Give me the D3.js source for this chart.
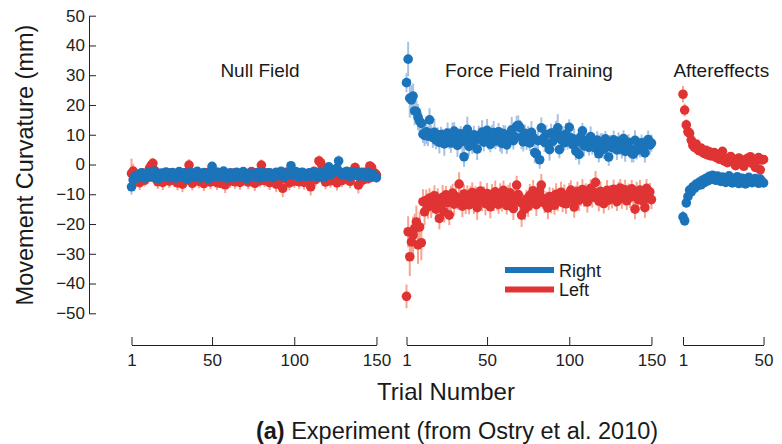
<!DOCTYPE html>
<html>
<head>
<meta charset="utf-8">
<script src="https://cdn.jsdelivr.net/npm/d3@7"></script>
<style>
  html, body { margin: 0; padding: 0; background: #fff; }
  svg { display: block; font-family: "Liberation Sans", Arial, Helvetica, sans-serif; }
</style>
</head>
<body>
<svg id="chart" width="782" height="444"></svg>
<script>
// Mean movement curvature (mm) per trial, with error half-widths.
const seriesNames = ["Right", "Left"];
const panelTitles = ["Null Field", "Force Field Training", "Aftereffects"];
const yTicks = [-50, -40, -30, -20, -10, 0, 10, 20, 30, 40, 50];
const trialTicksLong = [1, 50, 100, 150];
const trialTicksShort = [1, 50];

const nullRight = [
  -7.5,-5.2,-4.1,-3.6,-4.4,-3.2,-2.8,-3.9,-4.6,-3.1,
  -2.6,-3.4,-4.2,-3.0,-2.2,-3.6,-4.8,-3.3,-2.9,-3.7,
  -4.1,-2.5,-3.2,-4.4,-3.8,-2.7,-3.5,-4.6,-3.0,-2.4,
  -3.9,-4.3,-2.8,-3.4,-5.0,-3.6,-2.6,-3.1,-4.2,-3.7,
  -2.3,-3.0,-4.5,-3.9,-2.7,-3.3,-4.1,-4.8,-3.2,-0.6,
  -3.6,-4.0,-2.5,-3.4,-4.3,-3.1,-2.2,-3.8,-4.6,-3.5,
  -2.8,-3.9,-4.4,-3.0,-2.6,-3.7,-4.2,-3.3,-2.4,-3.5,
  -4.7,-3.6,-2.9,-3.2,-4.0,-3.4,-2.7,-3.9,-4.5,-3.1,
  -2.5,-3.3,-4.1,-3.6,-2.8,-3.0,-4.4,-3.7,-2.6,-3.5,
  -3.8,-2.3,-3.1,-4.2,-3.4,-2.9,-3.6,-0.4,-2.7,-3.3,
  -2.4,-3.7,-4.3,-3.0,-2.6,-3.5,-4.1,-3.2,-2.8,-3.9,
  -3.4,-2.5,-3.0,-4.2,-3.6,-2.7,-3.3,-4.4,-3.1,-2.2,
  -0.8,-3.6,-1.8,-2.5,-2.4,-1.2,1.2,-2.6,-3.4,-2.8,
  -3.7,-2.3,-3.1,-4.0,-2.7,-3.5,-2.4,-3.0,-3.9,-3.3,
  -2.6,-3.4,-4.1,-3.0,-2.8,-3.6,-4.3,-3.2,-3.8,-4.4
];
const nullLeft = [
  -3.0,-2.2,-4.8,-5.5,-3.6,-6.1,-4.2,-2.9,-5.3,-4.6,
  -3.3,-1.2,-0.3,0.4,-2.0,-4.9,-5.8,-3.7,-4.4,-6.0,
  -5.1,-3.2,-4.7,-5.6,-2.8,-4.0,-5.4,-3.5,-6.2,-4.3,
  -3.8,-6.6,-4.5,-5.2,-2.6,-0.2,-4.1,-6.3,-5.0,-3.4,
  -4.8,-5.7,-3.1,-4.4,-6.4,-5.3,-2.7,-4.9,-5.9,-3.6,
  -4.2,-5.5,-6.1,-3.9,-6.3,-4.6,-5.0,-6.8,-4.3,-3.2,
  -5.6,-4.0,-2.9,-5.8,-4.7,-3.5,-6.0,-4.4,-5.2,-3.0,
  -4.6,-5.9,-3.7,-2.4,-5.1,-6.3,-4.2,-3.3,-5.5,-0.2,
  -3.9,-5.4,-4.8,-2.8,-6.1,-4.5,-3.6,-5.7,-6.6,-4.0,
  -5.2,-3.4,-8.0,-4.7,-2.6,-5.0,-6.2,-3.8,-4.4,-5.6,
  -3.1,-4.9,-5.8,-2.7,-4.2,-6.0,-3.5,-5.3,-4.6,-7.5,
  -3.9,-2.3,-5.1,-4.4,1.2,0.6,-0.8,-4.7,-5.9,-3.2,
  -4.5,-5.5,-2.9,-3.7,-5.0,-6.2,-4.1,-3.0,-5.4,-4.6,
  -2.5,-4.8,-3.3,-5.7,-4.0,-2.1,-1.0,-3.6,-6.9,-4.3,
  -3.1,-5.2,-2.6,-3.9,-4.7,-0.5,-1.0,-3.3,-2.9,-3.5
];
const ffRight = [
  27.5,35.4,22.3,21.7,23.0,18.0,17.8,15.9,14.6,13.8,
  10.2,9.8,11.0,9.5,15.0,10.5,9.0,10.8,8.2,9.6,
  7.4,10.1,8.8,6.9,9.3,10.6,8.0,7.2,9.9,11.2,
  8.5,6.4,9.1,10.3,7.7,2.6,8.9,11.8,6.1,9.4,
  7.0,10.0,8.3,5.2,9.7,8.6,10.9,7.5,9.0,11.5,
  8.1,6.8,9.8,10.7,7.9,9.2,11.0,8.4,7.1,10.4,
  9.5,6.6,8.7,10.2,11.6,8.0,9.3,12.9,13.2,12.4,
  9.1,7.6,10.5,8.3,9.9,7.2,10.8,9.2,4.0,3.6,
  8.0,1.6,12.3,8.6,7.4,10.1,6.9,5.0,10.6,7.8,
  9.2,11.1,12.3,5.0,8.4,9.7,7.3,10.2,8.1,12.5,
  9.0,6.7,8.5,4.5,7.6,3.4,9.3,11.3,6.2,8.0,
  7.1,5.8,9.4,6.4,7.7,5.5,8.2,3.6,6.9,7.4,
  5.1,8.6,6.0,2.5,7.2,5.7,8.3,6.5,4.9,7.8,
  6.1,5.2,8.7,4.4,6.8,7.5,5.3,3.8,3.5,8.1,
  4.7,6.2,5.6,7.3,6.0,3.9,6.9,8.4,6.5,7.2
];
const ffLeft = [
  -44.3,-22.6,-31.0,-26.0,-23.7,-21.5,-19.3,-27.0,-21.0,-26.3,
  -12.5,-15.9,-12.0,-14.2,-11.3,-13.8,-12.6,-10.5,-15.0,-11.9,
  -18.1,-13.5,-11.0,-15.9,-10.2,-12.8,-17.0,-11.5,-9.6,-13.3,
  -10.8,-12.2,-6.6,-11.7,-14.0,-9.9,-12.4,-10.6,-13.6,-11.1,
  -9.4,-12.9,-10.3,-14.5,-11.8,-8.9,-12.0,-10.7,-13.1,-9.8,
  -11.4,-14.2,-10.0,-12.6,-9.2,-11.9,-13.4,-10.5,-12.2,-8.7,
  -11.0,-13.8,-10.9,-9.5,-12.5,-14.8,-11.3,-6.9,-10.1,-12.7,
  -17.0,-13.2,-15.0,-11.6,-14.1,-10.4,-12.3,-8.8,-11.9,-13.5,
  -10.2,-9.0,-6.9,-11.4,-13.0,-12.1,-14.6,-10.8,-12.9,-11.2,
  -13.7,-10.0,-12.4,-11.1,-9.3,-12.8,-10.6,-13.2,-11.5,-9.8,
  -8.6,-11.7,-14.3,-10.3,-9.1,-12.0,-10.9,-8.4,-11.3,-9.6,
  -12.6,-10.1,-8.0,-11.0,-9.4,-6.0,-10.7,-12.3,-9.0,-11.6,
  -13.1,-10.4,-8.7,-12.0,-9.9,-11.2,-8.3,-10.8,-12.5,-9.2,
  -7.9,-11.4,-10.0,-8.5,-12.2,-9.7,-11.0,-8.2,-10.6,-15.0,
  -9.1,-11.8,-8.6,-10.3,-12.4,-14.5,-8.0,-10.9,-9.2,-11.8
];
const aeRight = [
  -17.6,-18.9,-12.9,-10.8,-8.6,-9.2,-7.5,-8.0,-6.6,-7.1,
  -5.9,-6.8,-5.2,-6.1,-4.6,-5.5,-4.0,-5.0,-3.6,-4.4,
  -5.3,-3.9,-4.8,-5.7,-4.2,-5.1,-6.0,-4.5,-3.8,-5.4,
  -6.2,-4.9,-5.6,-4.1,-6.4,-5.2,-4.6,-5.9,-6.5,-5.0,
  -4.3,-5.8,-6.1,-5.3,-4.7,-5.5,-6.3,-4.9,-5.7,-6.2
];
const aeLeft = [
  23.6,18.3,13.3,11.0,10.5,8.2,6.4,5.8,6.9,5.0,
  4.6,5.5,4.1,3.7,4.8,3.2,4.3,2.9,3.5,4.0,
  2.4,3.1,1.8,2.6,4.4,1.2,2.0,0.6,1.5,2.7,
  0.9,1.7,-0.4,1.1,2.2,0.3,1.4,-0.6,0.8,2.0,
  1.0,2.6,0.4,1.6,-1.0,1.3,2.3,-1.8,1.5,1.7
];

const nullRightErr = [
  2.6,1.9,1.4,1.2,1.6,1.3,1.1,1.5,1.7,1.2,
  1.0,1.4,1.6,1.2,1.1,1.3,1.8,1.2,1.0,1.5,
  1.6,1.1,1.3,1.7,1.4,1.0,1.2,1.6,1.3,1.1,
  1.5,1.7,1.2,1.4,1.8,1.3,1.0,1.2,1.6,1.4,
  1.1,1.3,1.7,1.5,1.0,1.2,1.6,1.8,1.3,1.1,
  1.4,1.5,1.0,1.3,1.7,1.2,1.1,1.5,1.6,1.3,
  1.2,1.4,1.7,1.1,1.0,1.5,1.6,1.2,1.1,1.3,
  1.8,1.4,1.2,1.3,1.5,1.3,1.1,1.4,1.7,1.2,
  1.0,1.3,1.6,1.4,1.1,1.2,1.7,1.5,1.0,1.3,
  1.4,1.0,1.2,1.6,1.3,1.1,1.4,1.5,1.0,1.2,
  1.1,1.4,1.6,1.2,1.0,1.3,1.5,1.2,1.1,1.4,
  1.3,1.0,1.2,1.6,1.4,1.1,1.3,1.7,1.2,1.0,
  1.1,1.4,1.2,1.5,1.1,1.3,1.9,1.2,1.3,1.1,
  1.4,1.0,1.2,1.5,1.1,1.3,1.0,1.2,1.5,1.3,
  1.0,1.3,1.6,1.2,1.1,1.4,1.6,1.2,1.4,1.7
];
const nullLeftErr = [
  5.0,2.4,1.9,2.2,1.7,2.5,1.8,1.6,2.1,1.9,
  1.7,2.0,2.3,1.8,1.6,2.1,2.4,1.7,1.9,2.6,
  2.2,1.6,1.9,2.3,1.5,1.8,2.2,1.7,2.5,1.9,
  1.6,2.7,1.9,2.1,1.6,2.0,1.8,2.4,2.1,1.7,
  1.9,2.3,1.6,1.8,2.5,2.2,1.5,2.0,2.4,1.7,
  1.8,2.2,2.5,1.7,1.6,1.9,2.1,2.8,1.8,1.6,
  2.3,1.8,1.5,2.4,1.9,1.7,2.5,1.8,2.1,1.6,
  1.9,2.4,1.7,1.5,2.1,2.6,1.8,1.6,2.2,1.9,
  1.7,2.2,2.0,1.6,2.5,1.9,1.7,2.3,2.7,1.8,
  2.1,1.6,3.0,1.9,1.5,2.0,2.5,1.7,1.8,2.3,
  1.6,2.0,2.4,1.5,1.8,2.5,1.7,2.2,1.9,2.9,
  1.7,1.5,2.1,1.8,1.9,2.2,1.8,1.9,2.4,1.6,
  1.8,2.3,1.6,1.7,2.1,2.5,1.8,1.6,2.2,1.9,
  1.5,2.0,1.7,2.3,1.8,1.6,1.7,1.7,2.8,1.8,
  1.6,2.1,1.5,1.8,1.9,1.7,1.6,1.7,1.6,1.8
];
const ffRightErr = [
  3.2,5.8,6.5,5.0,4.2,4.8,3.9,4.4,3.5,3.8,
  3.0,3.6,4.1,3.3,3.9,2.8,3.4,4.6,3.1,2.9,
  3.7,2.6,3.2,4.0,2.9,3.5,2.7,3.3,4.2,3.0,
  2.8,3.9,3.1,2.6,3.6,3.4,2.9,4.3,3.2,2.7,
  3.5,3.0,2.8,3.7,3.3,2.9,4.0,3.1,2.6,3.8,
  3.2,2.7,3.4,3.9,2.8,3.3,3.0,4.1,3.5,2.9,
  3.6,3.1,2.7,3.2,4.4,3.0,2.8,3.5,3.3,2.6,
  3.9,3.2,2.9,3.4,3.0,2.7,3.8,3.1,3.6,2.8,
  3.3,3.0,3.5,2.9,3.2,3.2,2.7,3.7,3.1,2.8,
  3.4,3.6,4.6,2.9,3.5,3.2,2.6,3.8,3.1,2.7,
  3.3,2.9,3.6,3.0,2.8,3.4,3.1,2.7,3.5,3.2,
  3.0,2.8,3.4,3.1,2.6,3.3,3.0,2.9,3.6,3.1,
  3.2,2.7,3.5,3.0,2.8,3.3,3.1,2.6,3.4,3.0,
  2.9,3.2,2.8,3.5,3.0,2.7,3.3,3.1,2.8,3.4,
  3.0,2.9,3.2,2.8,3.1,3.3,2.7,3.0,3.2,2.9
];
const ffLeftErr = [
  4.0,5.2,6.5,5.8,6.2,5.0,5.5,6.4,5.1,5.9,
  4.2,4.5,3.6,4.0,3.3,4.2,3.8,3.5,4.4,3.9,
  3.7,3.2,4.1,3.6,3.0,3.9,3.4,4.3,3.1,3.8,
  3.5,3.0,4.0,3.3,3.7,3.2,4.2,3.6,3.1,3.9,
  3.4,3.8,3.0,4.1,3.5,3.2,3.7,3.3,4.0,3.6,
  3.1,3.9,3.4,3.0,3.8,3.5,3.2,4.2,3.6,3.3,
  3.7,3.0,4.1,3.4,3.2,3.9,3.5,3.1,3.8,3.6,
  4.0,3.3,3.7,3.1,3.5,3.9,3.2,3.6,3.0,3.8,
  3.4,3.1,3.7,3.5,3.3,3.0,3.8,3.2,3.6,3.4,
  3.1,3.7,3.3,3.0,3.5,3.2,3.9,3.4,3.1,3.6,
  3.3,3.0,3.6,3.2,3.4,3.7,3.1,3.5,3.0,3.3,
  3.6,3.2,3.0,3.5,3.3,3.8,3.1,3.4,3.2,3.0,
  3.4,3.1,3.5,3.3,3.0,3.6,3.2,3.4,3.1,3.3,
  3.0,3.5,3.2,3.4,3.1,3.3,3.6,3.0,3.2,3.4,
  3.3,3.1,3.4,3.0,3.2,3.5,3.1,3.3,3.0,3.2
];
const aeRightErr = [
  2.0,1.8,1.6,1.5,1.4,1.3,1.2,1.3,1.1,1.2,
  1.0,1.2,1.1,1.0,1.2,1.1,1.0,1.1,1.2,1.0,
  1.1,1.0,1.2,1.1,1.0,1.2,1.1,1.0,1.1,1.2,
  1.0,1.1,1.2,1.0,1.1,1.0,1.2,1.1,1.0,1.1,
  1.2,1.0,1.1,1.0,1.2,1.1,1.0,1.1,1.2,1.0
];
const aeLeftErr = [
  2.8,2.2,1.9,1.7,1.6,1.5,1.4,1.5,1.3,1.4,
  1.2,1.4,1.3,1.2,1.4,1.3,1.2,1.3,1.4,1.2,
  1.3,1.2,1.4,1.3,1.2,1.4,1.3,1.2,1.3,1.4,
  1.2,1.3,1.4,1.2,1.3,1.2,1.4,1.3,1.2,1.3,
  1.4,1.2,1.3,1.2,1.4,1.3,1.2,1.8,1.3,1.2
];

// ---- layout & style ----
const colors = { Right: "#1b74b9", Left: "#e03434" };
const barColors = { Right: "#a8c2e4", Left: "#f6a690" };
const pxPerTrial = 1.644;
const axisY = 345;

const panels = [
  { title: panelTitles[0], x0: 131.5, ticks: trialTicksLong, titleShift: 6,
    Right: nullRight, Left: nullLeft, RightErr: nullRightErr, LeftErr: nullLeftErr },
  { title: panelTitles[1], x0: 406.5, ticks: trialTicksLong, titleShift: 0,
    Right: ffRight, Left: ffLeft, RightErr: ffRightErr, LeftErr: ffLeftErr },
  { title: panelTitles[2], x0: 683.0, ticks: trialTicksShort, titleShift: -2,
    Right: aeRight, Left: aeLeft, RightErr: aeRightErr, LeftErr: aeLeftErr }
];

const svg = d3.select("#chart");
const y = d3.scaleLinear().domain([-50, 50]).range([313.3, 15.7]);

// y axis: ticks point into the plot, labels on the left
const yAxis = svg.append("g")
  .attr("transform", "translate(89,0)")
  .call(d3.axisLeft(y).tickValues(yTicks).tickSizeInner(-7).tickSizeOuter(0).tickPadding(4));
yAxis.attr("font-family", null);
yAxis.selectAll("text").attr("font-size", 17).attr("fill", "#222");
yAxis.selectAll("path, line").attr("stroke", "#222");

svg.append("text")
  .attr("transform", "translate(33,165) rotate(-90)")
  .attr("text-anchor", "middle")
  .attr("font-size", 23.5)
  .attr("fill", "#1a1a1a")
  .text("Movement Curvature (mm)");

panels.forEach(p => {
  const n = p.Right.length;
  const x = d3.scaleLinear().domain([1, n]).range([p.x0, p.x0 + (n - 1) * pxPerTrial]);
  const g = svg.append("g");

  // error bars first, then dots (Left under Right)
  ["Left", "Right"].forEach(s => {
    g.append("g").selectAll("line")
      .data(p[s])
      .join("line")
      .attr("x1", (d, i) => x(i + 1))
      .attr("x2", (d, i) => x(i + 1))
      .attr("y1", (d, i) => y(d - p[s + "Err"][i]))
      .attr("y2", (d, i) => y(d + p[s + "Err"][i]))
      .attr("stroke", barColors[s])
      .attr("stroke-width", 2);
  });
  ["Left", "Right"].forEach(s => {
    g.append("g").selectAll("circle")
      .data(p[s])
      .join("circle")
      .attr("cx", (d, i) => x(i + 1))
      .attr("cy", d => y(d))
      .attr("r", 4.8)
      .attr("fill", colors[s]);
  });

  const xAxis = svg.append("g")
    .attr("transform", `translate(0,${axisY})`)
    .call(d3.axisBottom(x).tickValues(p.ticks).tickSizeInner(-8).tickSizeOuter(0).tickPadding(9));
  xAxis.attr("font-family", null);
  xAxis.selectAll("text").attr("font-size", 17).attr("fill", "#222");
  xAxis.selectAll("path, line").attr("stroke", "#222");

  svg.append("text")
    .attr("x", (x.range()[0] + x.range()[1]) / 2 + p.titleShift)
    .attr("y", 77)
    .attr("text-anchor", "middle")
    .attr("font-size", 19)
    .attr("fill", "#1a1a1a")
    .text(p.title);
});

// legend
const legend = svg.append("g");
seriesNames.forEach((s, i) => {
  const ly = 270 + i * 19.5;
  legend.append("line")
    .attr("x1", 505).attr("x2", 554).attr("y1", ly).attr("y2", ly)
    .attr("stroke", colors[s]).attr("stroke-width", 6);
  legend.append("text")
    .attr("x", 559).attr("y", ly + 6.5)
    .attr("font-size", 18).attr("fill", "#1a1a1a")
    .text(s);
});

svg.append("text")
  .attr("x", 446).attr("y", 400)
  .attr("text-anchor", "middle")
  .attr("font-size", 24)
  .attr("fill", "#1a1a1a")
  .text("Trial Number");

const cap = svg.append("text")
  .attr("x", 457).attr("y", 439)
  .attr("text-anchor", "middle")
  .attr("font-size", 23.5)
  .attr("fill", "#1a1a1a");
cap.append("tspan").attr("font-weight", "bold").text("(a)");
cap.append("tspan").text(" Experiment (from Ostry et al. 2010)");
</script>
</body>
</html>
